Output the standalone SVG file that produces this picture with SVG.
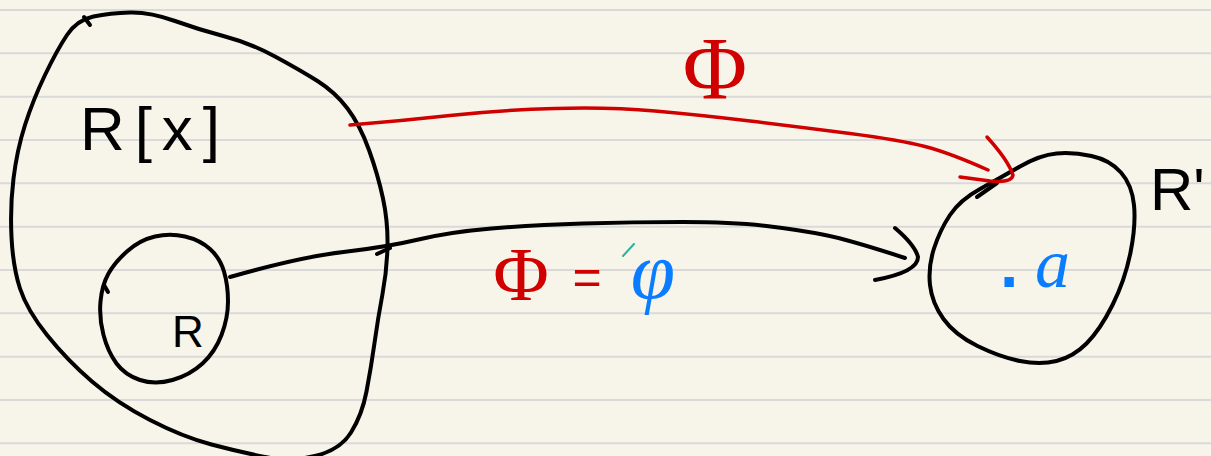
<svg xmlns="http://www.w3.org/2000/svg" width="1211" height="456" viewBox="0 0 1211 456">
  <style>
    .ink { fill: none; stroke: #000; stroke-width: 4; stroke-linecap: round; stroke-linejoin: round; }
    .red { fill: none; stroke: #d00000; stroke-width: 3.5; stroke-linecap: round; stroke-linejoin: round; }
    .rule { stroke: #d9d9d9; stroke-width: 2; }
    .lbl { font-family: "Liberation Sans", Arial, sans-serif; fill: #000; }
    .phi { font-family: "Liberation Serif", "Times New Roman", serif; fill: #d00000; }
    .eq { font-family: "Liberation Sans", Arial, sans-serif; fill: #d00000; }
    .blue { fill: #0a7cff; }
  </style>
  <rect x="0" y="0" width="1211" height="456" fill="#f7f5ea"/>
  <g id="paper-rules">
    <line class="rule" x1="0" y1="10" x2="1211" y2="10"/>
    <line class="rule" x1="0" y1="53.3" x2="1211" y2="53.3"/>
    <line class="rule" x1="0" y1="96.7" x2="1211" y2="96.7"/>
    <line class="rule" x1="0" y1="140" x2="1211" y2="140"/>
    <line class="rule" x1="0" y1="183.3" x2="1211" y2="183.3"/>
    <line class="rule" x1="0" y1="226.7" x2="1211" y2="226.7"/>
    <line class="rule" x1="0" y1="270" x2="1211" y2="270"/>
    <line class="rule" x1="0" y1="313.3" x2="1211" y2="313.3"/>
    <line class="rule" x1="0" y1="356.7" x2="1211" y2="356.7"/>
    <line class="rule" x1="0" y1="400" x2="1211" y2="400"/>
    <line class="rule" x1="0" y1="443.3" x2="1211" y2="443.3"/>
  </g>

  <g id="node-Rx">
    <path class="ink" d="M93.5,16.5 Q110,13 130,12.5 Q150,12 175,21 Q200,30 225,36.5 Q250,43 275,56.5 Q300,70 317.5,81 Q335,92 347.5,108.5 Q360,125 369,150 Q378,175 383,198.5 Q388,222 387.5,246 Q387,270 382.5,294 Q378,318 374.5,343 Q371,368 366.5,391.5 Q362,415 351,432.5 Q340,450 315,456 Q290,462 265,457 Q240,452 211.5,444.5 Q183,437 150,420 Q117,403 92,381.5 Q67,360 47,335 Q27,310 20,288.5 Q13,267 11.5,237 Q10,207 13.5,178.5 Q17,150 25,125 Q33,100 45,75 Q57,50 67,35 Q77,20 93.5,16.5"/>
    <line class="ink" x1="84" y1="17" x2="90" y2="25" stroke-width="2.5"/>
    <text class="lbl" x="80" y="150" font-size="62" textLength="140" lengthAdjust="spacing">R[x]</text>
  </g>

  <g id="node-R">
    <path class="ink" d="M185,236.5 Q200,240 210,249 Q220,258 224,271.5 Q228,285 228,301.5 Q228,318 221.5,335 Q215,352 202.5,363.5 Q190,375 172.5,380 Q155,385 140,380 Q125,375 116.5,363.5 Q108,352 103.5,335 Q99,318 100.5,301.5 Q102,285 108.5,273.5 Q115,262 127.5,251 Q140,240 155,236.5 Q170,233 185,236.5"/>
    <line class="ink" x1="104" y1="285" x2="108" y2="292" stroke-width="2.5"/>
    <text class="lbl" x="172" y="347" font-size="44">R</text>
  </g>

  <g id="node-Rprime">
    <path class="ink" d="M1020,166.5 Q1040,155 1056.5,153.5 Q1073,152 1091.5,156 Q1110,160 1121,172.5 Q1132,185 1134,205 Q1136,225 1130.5,252.5 Q1125,280 1112.5,305 Q1100,330 1086.5,343.5 Q1073,357 1056.5,361 Q1040,365 1020,361 Q1000,357 977.5,346 Q955,335 943.5,319 Q932,303 930,285 Q928,267 934,248.5 Q940,230 950,215 Q960,200 980,189 Q1000,178 1020,166.5"/>
    <line class="ink" x1="977" y1="197" x2="997" y2="183"/>
    <text class="lbl" x="1150" y="210" font-size="60">R'</text>
    <text class="lbl blue" x="1000" y="287" font-size="66"><tspan font-weight="bold">.</tspan><tspan x="1035" font-family="Liberation Serif, serif" font-style="italic" font-size="70">a</tspan></text>
  </g>

  <g id="connectors">
    <path class="red" d="M350,125 Q400,121 450,115.5 Q500,110 555,108.5 Q610,107 655,111 Q700,115 750,121 Q800,127 850,133.5 Q900,140 925,146.5 Q950,153 988,170"/>
    <path class="red" d="M987,137 Q1008,160 1013,175 Q1012,183 990,181 L960,177"/>
    <path class="ink" d="M230,277 Q300,257 343.5,252 Q387,247 418.5,239.5 Q450,232 491.5,228.5 Q533,225 583,223.5 Q633,222 683,222 Q733,222 766.5,226 Q800,230 825,235 Q850,240 905,258"/>
    <line class="ink" x1="377" y1="254" x2="390" y2="248" stroke-width="3"/>
    <path class="ink" d="M895,228 Q915,245 918,257 Q918,272 875,280"/>
  </g>

  <g id="labels">
    <text class="phi" x="715" y="98" font-size="88" text-anchor="middle">Φ</text>
    <text class="phi" x="521" y="300" font-size="76" text-anchor="middle">Φ</text>
    <text class="eq" x="587" y="294" font-size="50" text-anchor="middle">=</text>
    <line x1="623" y1="256" x2="634" y2="244" stroke="#2ab3a0" stroke-width="2" stroke-linecap="round"/>
    <text class="blue" x="653" y="298" font-size="80" text-anchor="middle" font-family="Liberation Serif, serif" font-style="italic">φ</text>
  </g>
</svg>
